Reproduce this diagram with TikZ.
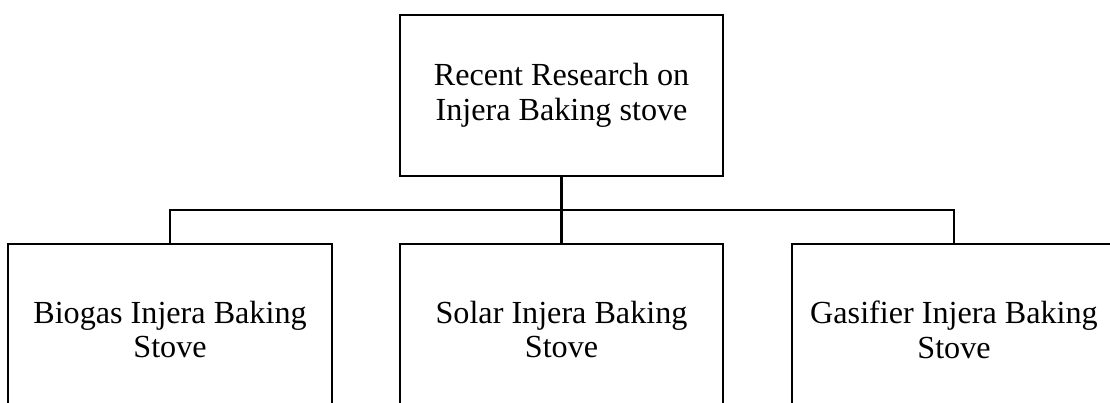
\documentclass[tikz,border=0pt]{standalone}
\usepackage{fontspec}
\setmainfont{Liberation Serif}
\usepackage{tikz}
\tikzset{stovebox/.style={draw, line width=1.2pt, minimum width=6.47cm, minimum height=3.22cm, align=center, inner sep=0pt, font=\fontsize{18.3}{19.8}\selectfont}}

\begin{document}
\begin{tikzpicture}
			%%%%% START %%%%%
			\useasboundingbox (0, 0) rectangle (22.2, 8.04);
			\clip (0, 0) rectangle (22.2, 8.04);
			
			\node[stovebox] (research) at (11.23, 6.13) {Recent Research on\\Injera Baking stove};
			
			\node[stovebox, minimum height=3.42cm] (biogas) at (3.40, 1.45) {Biogas Injera Baking\\Stove};
			\node[stovebox, minimum height=3.42cm] (solar) at (11.23, 1.45) {Solar Injera Baking\\Stove};
			\node[stovebox, minimum height=3.42cm] (gasifier) at (19.08, 1.45) {Gasifier Injera Baking\\Stove};
			
			\coordinate (bus) at (0, 3.84);
			\draw[line width=1.2pt] (research.south) -- (solar.north);
			\draw[line width=1.2pt] (biogas.north) |- (bus -| gasifier.north) -- (gasifier.north);
			%%%%% END %%%%%
		\end{tikzpicture}
\end{document}
